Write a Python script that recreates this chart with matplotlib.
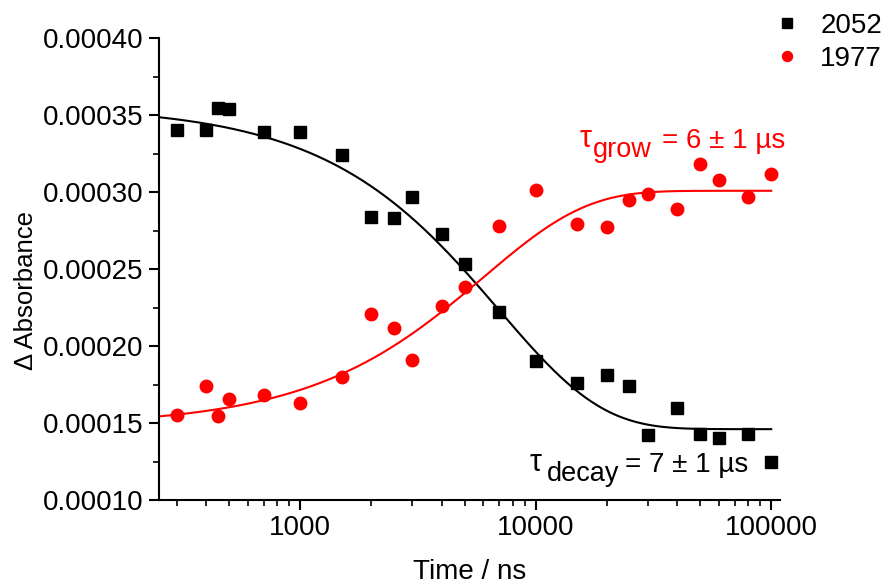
import numpy as np
import matplotlib
matplotlib.use("Agg")
import matplotlib.pyplot as plt
from matplotlib.ticker import FixedLocator, FuncFormatter, LogLocator, NullFormatter

plt.rcParams['font.family'] = ['Liberation Sans', 'DejaVu Sans']

# time delays (ns)
time_ns = [300, 400, 450, 500, 700, 1000, 1500, 2000, 2500, 3000, 4000, 5000,
           7000, 10000, 15000, 20000, 25000, 30000, 40000, 50000, 60000, 80000, 100000]

# 2052 band, decays
abs_2052 = [0.000340, 0.000340, 0.0003545, 0.000354, 0.000339, 0.000339, 0.000324,
            0.000284, 0.000283, 0.000297, 0.000273, 0.000253, 0.000222, 0.000190,
            0.000176, 0.000181, 0.000174, 0.000142, 0.000160, 0.000143, 0.000140,
            0.000143, 0.000125]

# 1977 band, grows in
abs_1977 = [0.000155, 0.000174, 0.0001545, 0.0001655, 0.000168, 0.000163, 0.000180,
            0.000221, 0.000212, 0.000191, 0.000226, 0.000238, 0.000278, 0.000301,
            0.000279, 0.000277, 0.000295, 0.000299, 0.000289, 0.000318, 0.000308,
            0.000297, 0.000312]

# single exponential fit parameters
tau_decay = 7000.0
decay_offset = 0.000146
decay_amp = 0.000210
tau_grow = 6000.0
grow_start = 0.000148
grow_plateau = 0.0003008

t_fit = np.logspace(np.log10(250), np.log10(100000), 400)
fit_decay = decay_offset + decay_amp * np.exp(-t_fit / tau_decay)
fit_grow = grow_start + (grow_plateau - grow_start) * (1 - np.exp(-t_fit / tau_grow))


def tau_label(ax, x, y, sub, rest, color, sub_dx, rest_dx):
    # tau, big subscript, then the value; offsets in points from (x, y)
    kw = dict(xy=(x, y), xycoords='data', textcoords='offset points',
              ha='left', va='baseline', color=color)
    ax.annotate('τ', xytext=(0, 0.5), fontsize=22, **kw)
    ax.annotate(sub, xytext=(sub_dx, -6.5), fontsize=19.5, **kw)
    ax.annotate(rest, xytext=(rest_dx, 0), fontsize=20, **kw)


fig = plt.figure(figsize=(8.85, 5.85), dpi=100)
ax = fig.add_axes([0.1797, 0.1453, 0.7017, 0.7897])

ax.plot(t_fit, fit_decay, color='black', lw=1.5, zorder=2)
ax.plot(t_fit, fit_grow, color='red', lw=1.5, zorder=2)
ax.plot(time_ns, abs_2052, 's', color='black', ms=8.5, label='2052', zorder=3,
        clip_on=False)
ax.plot(time_ns, abs_1977, 'o', color='red', ms=9, label='1977', zorder=3,
        clip_on=False)

ax.set_xscale('log')
ax.set_xlim(252, 109000)
ax.set_ylim(0.0001, 0.0004)

ax.spines['top'].set_visible(False)
ax.spines['right'].set_visible(False)
for s in ('left', 'bottom'):
    ax.spines[s].set_linewidth(1.5)

ax.xaxis.set_major_locator(FixedLocator([1000, 10000, 100000]))
ax.xaxis.set_major_formatter(FuncFormatter(lambda v, p: '%d' % v))
ax.xaxis.set_minor_locator(LogLocator(base=10, subs=np.arange(2, 10)))
ax.xaxis.set_minor_formatter(NullFormatter())
ax.yaxis.set_major_locator(FixedLocator(np.arange(0.0001, 0.00041, 0.00005)))
ax.yaxis.set_minor_locator(FixedLocator(np.arange(0.000125, 0.0004, 0.00005)))
ax.yaxis.set_major_formatter(FuncFormatter(lambda v, p: '%.5f' % v))

ax.tick_params(which='major', direction='out', length=7, width=1.5, labelsize=20, pad=4)
ax.tick_params(which='minor', direction='out', length=4, width=1.2)

ax.set_xlabel('Time / ns', fontsize=20, labelpad=12.5)
ax.text(-0.214, 0.4545, 'Δ Absorbance', fontsize=18.5, rotation=90,
        ha='center', va='center', transform=ax.transAxes)

tau_label(ax, 15400, 0.0003286, 'grow', '= 6 ± 1 µs', 'red', 9.5, 59.5)
tau_label(ax, 9475, 0.0001182, 'decay', '= 7 ± 1 µs', 'black', 12, 68)

leg = ax.legend(loc='upper left', bbox_to_anchor=(0.9887, 1.054), frameon=False,
                fontsize=20, handletextpad=0.7, handlelength=1.0, labelspacing=0.25,
                markerscale=0.8, borderaxespad=0, borderpad=0)

fig.savefig('out.png', dpi=100)
